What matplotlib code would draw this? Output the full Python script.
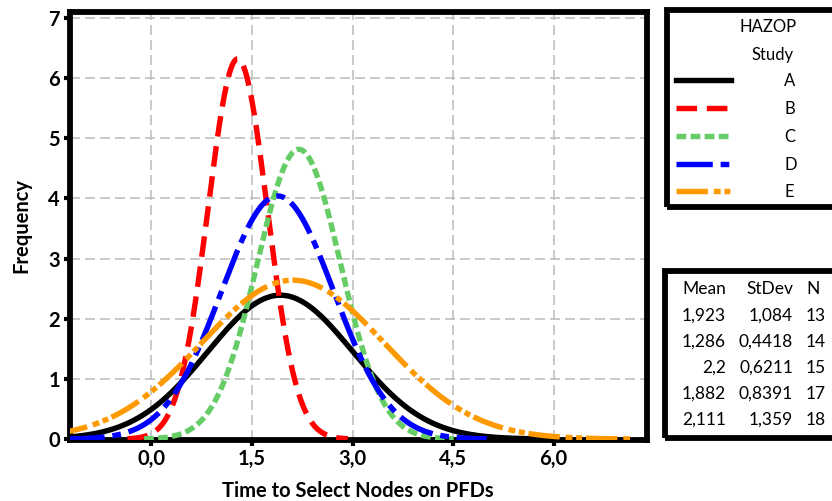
import numpy as np
import matplotlib
matplotlib.use('Agg')
import matplotlib.pyplot as plt
from matplotlib.patches import Rectangle

# ---- data (from the chart's summary table) ----
studies = ['A', 'B', 'C', 'D', 'E']
means = [1.923, 1.286, 2.2, 1.882, 2.111]
stdevs = [1.084, 0.4418, 0.6211, 0.8391, 1.359]
counts = [13, 14, 15, 17, 18]
bin_width = 0.5
x_ticks = [0.0, 1.5, 3.0, 4.5, 6.0]
y_ticks = [0, 1, 2, 3, 4, 5, 6, 7]

colors = ['#000000', '#FF0000', '#66CC66', '#0000FF', '#FF9900']
styles = ['-', (0, (3.8, 1.8)), (0, (1.8, 0.8)),
          (0, (6.7, 1.45, 1.6, 1.45)), (0, (5.8, 1.1, 1.25, 0.7, 1.1, 0.7))]

plt.rcParams['font.family'] = ['Lato', 'DejaVu Sans']

W, H = 832, 501
fig = plt.figure(figsize=(W / 100, H / 100), dpi=100)
ax = fig.add_axes([69.7 / W, 1 - 439.7 / H, (646.7 - 69.7) / W, (439.7 - 12) / H])

lines = []
for s, m, sd, n, c, ls in zip(studies, means, stdevs, counts, colors, styles):
    x = np.linspace(m - 3.72 * sd, m + 3.72 * sd, 600)
    y = n * bin_width * np.exp(-0.5 * ((x - m) / sd) ** 2) / (sd * np.sqrt(2 * np.pi))
    ln, = ax.plot(x, y, color=c, linestyle=ls, lw=3.9, label=s, zorder=3)
    lines.append(ln)

ax.set_xlim(-1.22, 7.39)
ax.set_ylim(-0.01, 7.1)
ax.set_xticks(x_ticks)
ax.set_xticklabels([f"{v:.1f}".replace('.', ',') for v in x_ticks])
ax.set_yticks(y_ticks)
ax.set_yticklabels([str(v) for v in y_ticks])
ax.grid(True, color='#C0C0C0', linestyle=(0, (6, 3)), lw=1.2, zorder=0)
ax.set_axisbelow(True)
for sp in ax.spines.values():
    sp.set_linewidth(4.2)
ax.tick_params(direction='out', length=4, width=3, labelsize=14.5, pad=3)
for lab in ax.get_xticklabels() + ax.get_yticklabels():
    lab.set_fontweight('bold')
ax.set_xlabel('Time to Select Nodes on PFDs', fontsize=14.5, fontweight='bold', labelpad=8)
ax.set_ylabel('Frequency', fontsize=14.5, fontweight='bold', labelpad=12)

# ---- legend box ----
lfs = 12
fig.patches.append(Rectangle((667 / W, 1 - 207 / H), 0.3, (207 - 10) / H,
                             transform=fig.transFigure, fill=False, lw=4.2,
                             edgecolor='black', clip_on=False))
fig.text(768 / W, 1 - 27 / H, 'HAZOP', ha='center', va='center', fontsize=lfs)
fig.text(773 / W, 1 - 55 / H, 'Study', ha='center', va='center', fontsize=lfs)
leg = fig.legend(handles=lines, labels=studies, loc='upper left',
                 bbox_to_anchor=(676 / W, 1 - 73 / H), frameon=False,
                 fontsize=lfs, handlelength=3.3, handletextpad=3.2,
                 labelspacing=0.71, borderpad=0, borderaxespad=0)

# ---- statistics table ----
fig.patches.append(Rectangle((665 / W, 1 - 438 / H), 0.3, (438 - 271) / H,
                             transform=fig.transFigure, fill=False, lw=4.2,
                             edgecolor='black', clip_on=False))
fs = 12.5
hy = 289
fig.text(726 / W, 1 - hy / H, 'Mean', ha='right', va='center', fontsize=fs)
fig.text(793 / W, 1 - hy / H, 'StDev', ha='right', va='center', fontsize=fs)
fig.text(806 / W, 1 - hy / H, 'N', ha='left', va='center', fontsize=fs)
fmt = lambda v: str(v).replace('.', ',')
row_y = [316, 342, 368, 394, 420]
for m, sd, n, yy in zip(means, stdevs, counts, row_y):
    fig.text(726 / W, 1 - yy / H, fmt(m), ha='right', va='center', fontsize=fs)
    fig.text(793 / W, 1 - yy / H, fmt(sd), ha='right', va='center', fontsize=fs)
    fig.text(806 / W, 1 - yy / H, str(n), ha='left', va='center', fontsize=fs)

fig.savefig('out.png', dpi=100)
